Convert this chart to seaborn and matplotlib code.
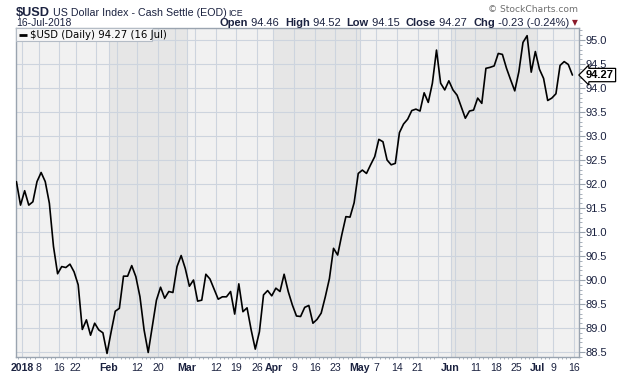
import matplotlib
matplotlib.use("Agg")
import pandas as pd
import matplotlib.pyplot as plt
import seaborn as sns
from matplotlib.patches import Rectangle
from matplotlib.ticker import MultipleLocator, FixedLocator

# ==============================
# Data
# ==============================
holidays = ["2018-01-01", "2018-01-15", "2018-02-19", "2018-03-30",
            "2018-05-28", "2018-07-04"]
dates = pd.bdate_range("2017-12-29", "2018-07-16")
dates = dates[~dates.isin(pd.to_datetime(holidays))]

close = [
    92.05, 91.56, 91.86, 91.56, 91.63, 92.05, 92.24, 92.05, 91.60, 90.70,
    90.13, 90.28, 90.26, 90.33, 90.17, 89.90, 88.97, 89.17, 88.85, 89.10,
    88.96, 88.90, 88.47, 88.92, 89.35, 89.41, 90.08, 90.08, 90.30, 90.07,
    89.65, 88.96, 88.49, 89.03, 89.58, 89.85, 89.62, 89.76, 89.74, 90.28,
    90.51, 90.24, 89.87, 90.00, 89.56, 89.58, 90.12, 90.02, 89.81, 89.60,
    89.65, 89.65, 89.76, 89.29, 89.92, 89.34, 89.42, 88.96, 88.56, 88.92,
    89.69, 89.78, 89.67, 89.83, 89.76, 90.12, 89.76, 89.48, 89.25, 89.24,
    89.43, 89.47, 89.10, 89.18, 89.31, 89.65, 90.03, 90.66, 90.52, 90.94,
    91.32, 91.31, 91.61, 92.22, 92.29, 92.22, 92.40, 92.57, 92.93, 92.88,
    92.50, 92.40, 92.43, 93.07, 93.25, 93.35, 93.53, 93.56, 93.52, 93.90,
    93.70, 94.10, 94.79, 94.10, 93.96, 94.15, 93.96, 93.85, 93.61, 93.37,
    93.52, 93.54, 93.79, 93.68, 94.41, 94.43, 94.46, 94.72, 94.70, 94.41,
    94.17, 93.94, 94.34, 94.95, 95.09, 94.33, 94.76, 94.39, 94.20, 93.74,
    93.79, 93.88, 94.47, 94.55, 94.49, 94.27,
]

grid_dates = [
    "2018-01-02", "2018-01-08", "2018-01-16", "2018-01-22", "2018-01-29",
    "2018-02-01", "2018-02-05", "2018-02-12", "2018-02-20", "2018-02-26",
    "2018-03-01", "2018-03-05", "2018-03-12", "2018-03-19", "2018-03-26",
    "2018-04-02", "2018-04-09", "2018-04-16", "2018-04-23", "2018-04-30",
    "2018-05-01", "2018-05-07", "2018-05-14", "2018-05-21", "2018-05-29",
    "2018-06-01", "2018-06-04", "2018-06-11", "2018-06-18", "2018-06-25",
    "2018-07-02", "2018-07-09", "2018-07-16",
]
grid_labels = [
    "2018", "8", "16", "22", "",
    "Feb", "", "12", "20", "",
    "Mar", "", "12", "19", "26",
    "Apr", "9", "16", "23", "",
    "May", "7", "14", "21", "",
    "Jun", "", "11", "18", "25",
    "Jul", "9", "16",
]
bold_labels = ["2018", "Feb", "Mar", "Apr", "May", "Jun", "Jul"]
month_starts = ["2018-02-01", "2018-03-01", "2018-04-02", "2018-05-01",
                "2018-06-01", "2018-07-02"]

df = pd.DataFrame({"day": range(len(dates)), "close": close}, index=dates)


def pos(d):
    return dates.get_loc(pd.Timestamp(d)) + 0.4


# ==============================
# Figure
# ==============================
sns.set_style("white")
plt.rcParams["font.family"] = ["Liberation Sans", "DejaVu Sans"]

W, H = 620, 376
fig = plt.figure(figsize=(W / 100, H / 100), dpi=100)
ax = fig.add_axes([16 / W, 1 - 357 / H, (579 - 16) / W, (357 - 28) / H])

light_bg = "#f1f1f1"
dark_bg = "#e6e6e6"
grid_col = "#cdd4de"
text_col = "#1b2240"

ax.set_facecolor(light_bg)
ms = [pos(d) for d in month_starts]
for a, b in [(ms[0], ms[1]), (ms[2], ms[3]), (ms[4], ms[5])]:
    ax.axvspan(a, b, color=dark_bg, lw=0, zorder=0)

sns.lineplot(data=df, x="day", y="close", ax=ax, color="black",
             lw=1.2, zorder=3)

ax.set_xlim(-0.1, 136.6)
ax.set_ylim(88.396, 95.25)
ax.set_xlabel("")
ax.set_ylabel("")

# x axis
ax.xaxis.set_major_locator(FixedLocator([pos(d) for d in grid_dates]))
ax.set_xticklabels(grid_labels)
ax.xaxis.set_minor_locator(FixedLocator([i + 0.4 for i in range(len(dates))]))
ax.tick_params(axis="x", which="major", length=0, pad=4, labelsize=7.6,
               labelcolor=text_col)
ax.tick_params(axis="x", which="minor", length=1.5, color="#9aa4b0",
               bottom=True)
for t in ax.get_xticklabels():
    if t.get_text() in bold_labels:
        t.set_fontweight("bold")

# y axis on the right
ax.yaxis.tick_right()
ax.yaxis.set_major_locator(MultipleLocator(0.5))
ax.yaxis.set_minor_locator(MultipleLocator(0.1))
ax.set_yticklabels([f"{v:.1f}" for v in ax.get_yticks()])
ax.tick_params(axis="y", which="major", length=4, width=0.8, color="#9aa4b0",
               pad=1, labelsize=8, labelcolor=text_col)
ax.tick_params(axis="y", which="minor", length=2, width=0.6, color="#9aa4b0",
               right=True)
ax.set_ylim(88.396, 95.25)

ax.grid(True, which="major", color=grid_col, lw=0.8, zorder=1)
ax.set_axisbelow(True)
for s in ax.spines.values():
    s.set_color("#9aa4b0")
    s.set_linewidth(1)

# legend box
ax.add_patch(Rectangle((0, 1 - 13 / 329), (152 - 16) / 563, 13 / 329,
                       transform=ax.transAxes, facecolor="#f6f6f6",
                       edgecolor="#b4bcc6", lw=0.8, zorder=4))
ax.plot([3 / 563, 11 / 563], [1 - 6.5 / 329] * 2, transform=ax.transAxes,
        color="black", lw=2, zorder=5, solid_capstyle="butt")
ax.text(14 / 563, 1 - 6.5 / 329, r"\$USD (Daily) 94.27 (16 Jul)",
        transform=ax.transAxes, fontsize=7.3, family="DejaVu Sans",
        va="center", ha="left", color="black", zorder=5)

# last price flag
ax.annotate("94.27", xy=(1.0, 94.27), xycoords=("axes fraction", "data"),
            xytext=(5, 0), textcoords="offset points", fontsize=8,
            fontweight="bold", color="black", va="center", ha="left",
            bbox=dict(boxstyle="larrow,pad=0.15", fc="white", ec="black",
                      lw=0.9), annotation_clip=False, zorder=6)

# ==============================
# Header
# ==============================
fig.text(16 / W, 1 - 13 / H, r"\$USD", fontsize=9.2, fontweight="bold",
         color=text_col, va="center")
fig.text(53 / W, 1 - 13 / H, "US Dollar Index - Cash Settle (EOD)",
         fontsize=7.7, color=text_col, va="center")
fig.text(228 / W, 1 - 13.5 / H, "ICE", fontsize=6.3, color=text_col,
         va="center")
fig.text(16 / W, 1 - 23 / H, "16-Jul-2018", fontsize=7.5, color=text_col,
         va="center")
fig.text(578 / W, 1 - 10 / H, "\u00a9 StockCharts.com", fontsize=6.6,
         family="DejaVu Sans", color="#6e6e6e", va="center", ha="right")

pieces = [("Open", "bold"), (" 94.46  ", "normal"), ("High", "bold"),
          (" 94.52  ", "normal"), ("Low", "bold"), (" 94.15  ", "normal"),
          ("Close", "bold"), (" 94.27  ", "normal"), ("Chg", "bold"),
          (" -0.23 (-0.24%)", "normal")]
renderer = fig.canvas.get_renderer()
widths = []
for txt, wt in pieces:
    t = fig.text(0, 0, txt, fontsize=8, fontweight=wt)
    widths.append(t.get_window_extent(renderer).width)
    t.remove()
x = 569 - sum(widths)
for (txt, wt), w in zip(pieces, widths):
    fig.text(x / W, 1 - 23 / H, txt, fontsize=8, fontweight=wt,
             color=text_col, va="center")
    x += w
fig.text(575 / W, 1 - 22.5 / H, "\u25bc", fontsize=5.5, color="#8b1a2b",
         family="DejaVu Sans", va="center", ha="center")

fig.savefig("out.png", dpi=100)
plt.close(fig)
